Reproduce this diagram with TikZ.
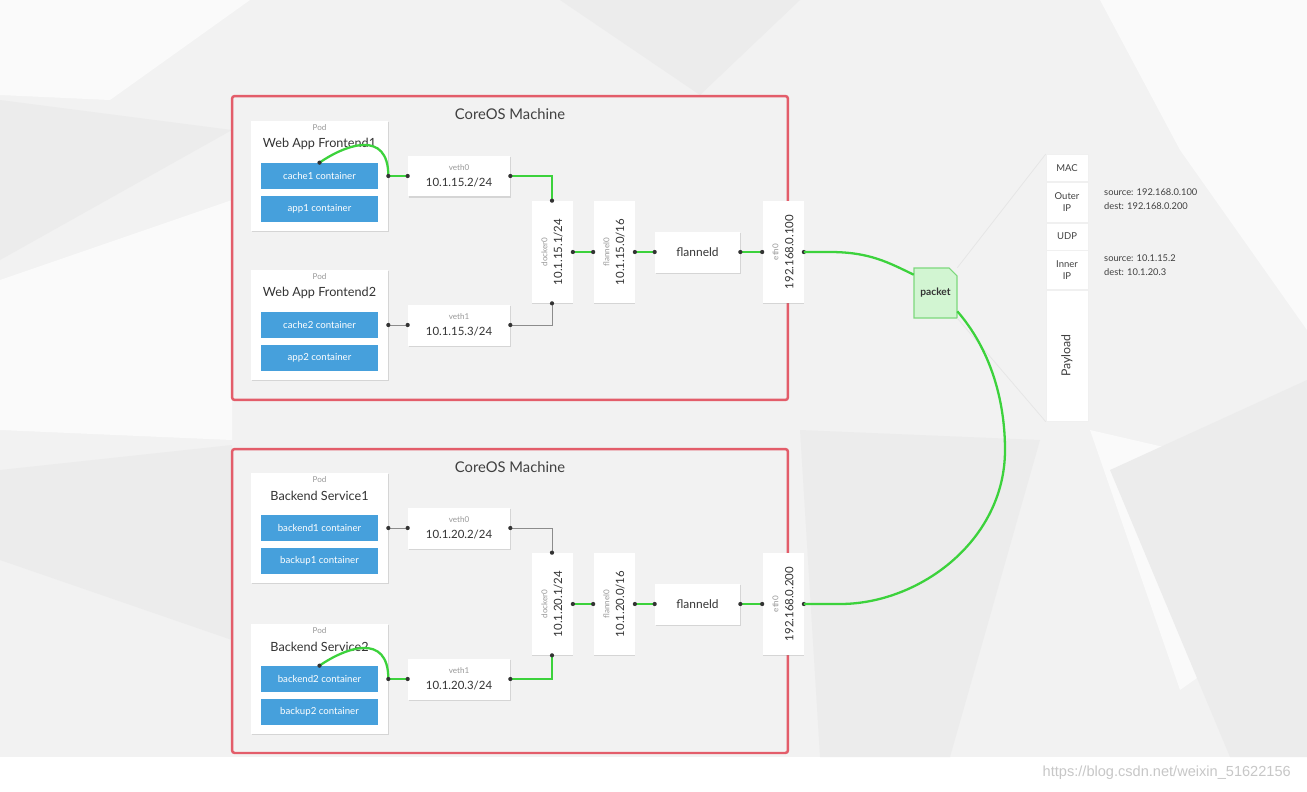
\documentclass[tikz,border=0pt]{standalone}
\usepackage{fontspec}
\setmainfont{Lato}
\newfontfamily\wmfont{Liberation Sans}
\usepackage{tikz}
\usetikzlibrary{positioning, shadows}

\definecolor{kred}{HTML}{E35D6A}
\definecolor{kblue}{HTML}{46A0DC}
\definecolor{kgreen}{HTML}{3CD23C}
\definecolor{pktfill}{HTML}{D2F5D2}
\definecolor{pktline}{HTML}{7CD87C}
\definecolor{bgbase}{HTML}{F2F2F2}
\definecolor{bgdark}{HTML}{ECECEC}
\definecolor{bglight}{HTML}{FAFAFA}

\newcommand{\tagtxt}[1]{{\color{black!40}\fontsize{4.6}{5.5}\selectfont #1}}

\begin{document}
\begin{tikzpicture}[x=0.02cm, y=-0.02cm,
    machine/.style={draw=kred, line width=1.4pt, rounded corners=1.5pt,
        minimum width=11.12cm, minimum height=6.08cm},
    mtitle/.style={font=\fontsize{8.4}{10}\selectfont, text=black!75},
    boxshadow/.style={drop shadow={shadow xshift=0.3pt, shadow yshift=-0.7pt, opacity=0.25}},
    podbox/.style={fill=white, boxshadow, minimum width=2.74cm, minimum height=2.2cm},
    podtag/.style={font=\fontsize{4.6}{5.5}\selectfont, text=black!40},
    podname/.style={font=\fontsize{7.2}{9}\selectfont, text=black!80},
    ctr/.style={fill=kblue, text=white, font=\fontsize{5.5}{6.5}\selectfont,
        minimum width=2.36cm, minimum height=0.52cm},
    vethbox/.style={fill=white, boxshadow, minimum width=2.04cm, minimum height=0.82cm,
        align=center, font=\fontsize{6.5}{8}\selectfont, text=black!80},
    vbox/.style={fill=white, boxshadow, minimum width=0.82cm, minimum height=2.04cm},
    vtext/.style={rotate=90, align=center, font=\fontsize{6.5}{8.5}\selectfont, text=black!80},
    fdbox/.style={fill=white, boxshadow, minimum width=1.7cm, minimum height=0.82cm,
        font=\fontsize{6.8}{8}\selectfont, text=black!80},
    gwire/.style={draw=kgreen, line width=1.3pt},
    wwire/.style={draw=black!45, line width=0.45pt},
    hline/.style={draw=black!10, line width=0.4pt},
    hcell/.style={fill=white, draw=black!6, line width=0.4pt, boxshadow, minimum width=0.84cm,
        align=center, font=\fontsize{5.4}{6.6}\selectfont, text=black!75},
    pkttext/.style={minimum width=0.86cm, minimum height=1cm,
        font=\bfseries\fontsize{5.8}{7}\selectfont, text=black!80},
    srcnote/.style={anchor=west, align=left, font=\fontsize{5.3}{8}\selectfont, text=black!75}]

    % 0. Background
    \useasboundingbox (0,0) rectangle (1307,791);
    \fill[white] (0,0) rectangle (1307,791);
    \fill[bgbase] (0,0) rectangle (1307,757);
    \fill[bglight] (0,0) -- (250,0) -- (110,100) -- (0,95) -- cycle;
    \fill[bglight] (0,280) -- (232,200) -- (232,440) -- (0,430) -- cycle;
    \fill[bglight] (1100,0) -- (1307,0) -- (1307,330) -- (1180,150) -- cycle;
    \fill[bglight] (1090,430) -- (1307,480) -- (1307,600) -- (1180,690) -- cycle;
    \fill[bgdark] (0,100) -- (232,130) -- (0,260) -- cycle;
    \fill[bgdark] (0,470) -- (232,445) -- (232,640) -- (0,560) -- cycle;
    \fill[bgdark] (800,430) -- (1040,440) -- (950,757) -- (820,757) -- cycle;
    \fill[bgdark] (1110,470) -- (1307,380) -- (1307,757) -- (1230,757) -- cycle;
    \fill[bgdark] (560,0) -- (800,0) -- (700,95) -- cycle;

    % 1. CoreOS machines
    \node[machine] (m1) at (510,248) {};
    \node[machine] (m2) at (510,601) {};
    \node[mtitle] (t1) at (510,114) {CoreOS Machine};
    \node[mtitle] (t2) at (510,467) {CoreOS Machine};

    % 2. Pods with their containers
    \foreach \y/\name/\ca/\cb/\i in {176/Web App Frontend1/cache1/app1/1,
            325/Web App Frontend2/cache2/app2/2,
            528/Backend Service1/backend1/backup1/3,
            679/Backend Service2/backend2/backup2/4} {
        \node[podbox] (pod\i) at (319.5,\y) {};
        \node[podtag] at (319.5,\y-48) {Pod};
        \node[podname] at (319.5,\y-32) {\name};
        \node[ctr] (ca\i) at (319.5,\y) {\ca\ container};
        \node[ctr] (cb\i) at (319.5,\y+33) {\cb\ container};
        \coordinate (o\i) at (pod\i.east |- ca\i);
    }

    % 3. veth pairs, bridges, flanneld, eth0
    \node[vethbox] (va1) at (459,176) {\tagtxt{veth0}\\[1pt]10.1.15.2/24};
    \node[vethbox] (vb1) at (459,325) {\tagtxt{veth1}\\[1pt]10.1.15.3/24};
    \node[vethbox] (va2) at (459,528) {\tagtxt{veth0}\\[1pt]10.1.20.2/24};
    \node[vethbox] (vb2) at (459,679) {\tagtxt{veth1}\\[1pt]10.1.20.3/24};

    \node[vbox] (dk1) at (552,252) {};
    \node[vtext] at (dk1) {\tagtxt{docker0}\\10.1.15.1/24};
    \node[vbox] (fl1) at (614,252) {};
    \node[vtext] at (fl1) {\tagtxt{flannel0}\\10.1.15.0/16};
    \node[fdbox] (fd1) at (697.5,252) {flanneld};
    \node[vbox] (eth1) at (783,252) {};
    \node[vtext] at (eth1) {\tagtxt{eth0}\\192.168.0.100};

    \node[vbox] (dk2) at (552,604) {};
    \node[vtext] at (dk2) {\tagtxt{docker0}\\10.1.20.1/24};
    \node[vbox] (fl2) at (614,604) {};
    \node[vtext] at (fl2) {\tagtxt{flannel0}\\10.1.20.0/16};
    \node[fdbox] (fd2) at (697.5,604) {flanneld};
    \node[vbox] (eth2) at (783,604) {};
    \node[vtext] at (eth2) {\tagtxt{eth0}\\192.168.0.200};

    % 4. Wires inside the machines
    \draw[gwire] (ca1.north) .. controls +(26,-18) and +(0,-47) .. (o1);
    \draw[gwire] (o1) -- (va1.west);
    \draw[gwire] (va1.east) -| (dk1.north);
    \draw[wwire] (o2) -- (vb1.west);
    \draw[wwire] (vb1.east) -| (dk1.south);
    \draw[wwire] (o3) -- (va2.west);
    \draw[wwire] (va2.east) -| (dk2.north);
    \draw[gwire] (ca4.north) .. controls +(26,-18) and +(0,-47) .. (o4);
    \draw[gwire] (o4) -- (vb2.west);
    \draw[gwire] (vb2.east) -| (dk2.south);
    \foreach \k in {1,2} {
        \draw[gwire] (dk\k.east) -- (fl\k.west);
        \draw[gwire] (fl\k.east) -- (fd\k.west);
        \draw[gwire] (fd\k.east) -- (eth\k.west);
    }
    \foreach \p in {ca1.north, o1, va1.west, va1.east, dk1.north, dk1.south, vb1.east, vb1.west, o2,
            o3, va2.west, va2.east, dk2.north, dk2.south, vb2.east, vb2.west, o4, ca4.north,
            dk1.east, fl1.west, fl1.east, fd1.west, fd1.east, eth1.west, eth1.east,
            dk2.east, fl2.west, fl2.east, fd2.west, fd2.east, eth2.west, eth2.east} {
        \fill[black!80] (\p) circle (1.2pt);
    }

    % 5. Packet and its headers
    \node[hcell, minimum height=0.54cm] (mac) at (1067,168) {MAC};
    \node[hcell, minimum height=0.8cm, below=0pt of mac] (outer) {Outer\\IP};
    \node[hcell, minimum height=0.54cm, below=0pt of outer] (udp) {UDP};
    \node[hcell, minimum height=0.78cm, below=0pt of udp] (inner) {Inner\\IP};
    \node[hcell, minimum height=2.62cm, below=0pt of inner] (pay) {};
    \node[rotate=90, font=\fontsize{7}{8}\selectfont, text=black!75] at (pay) {Payload};
    \node[srcnote] (srco) at (1098,199) {source: 192.168.0.100\\dest: 192.168.0.200};
    \node[srcnote] (srci) at (1098,265) {source: 10.1.15.2\\dest: 10.1.20.3};

    \fill[pktfill, draw=pktline, line width=0.6pt] (914,268) -- (949,268) -- (957,276) -- (957,318) -- (914,318) -- cycle;
    \node[pkttext] (pkt) at (935.5,293) {packet};
    \draw[hline] (pkt.north east) -- (mac.north west);
    \draw[hline] (pkt.south east) -- (pay.south west);

    \coordinate (bend) at (1005,450);
    \draw[gwire] (eth1.east) -- ++(26,0) .. controls +(40,0) and +(-25,-12) .. (pkt.140);
    \draw[gwire] (pkt.-40) .. controls +(33,38) and +(0,-50) .. (bend)
        .. controls +(0,90) and +(80,0) .. (840,604) -- (eth2.east);

    % 6. Watermark
    \node[anchor=east, text=black!22, font=\wmfont\fontsize{8.3}{10}\selectfont] (wm) at (1297,773)
        {https://blog.csdn.net/weixin\_51622156};
\end{tikzpicture}
\end{document}
